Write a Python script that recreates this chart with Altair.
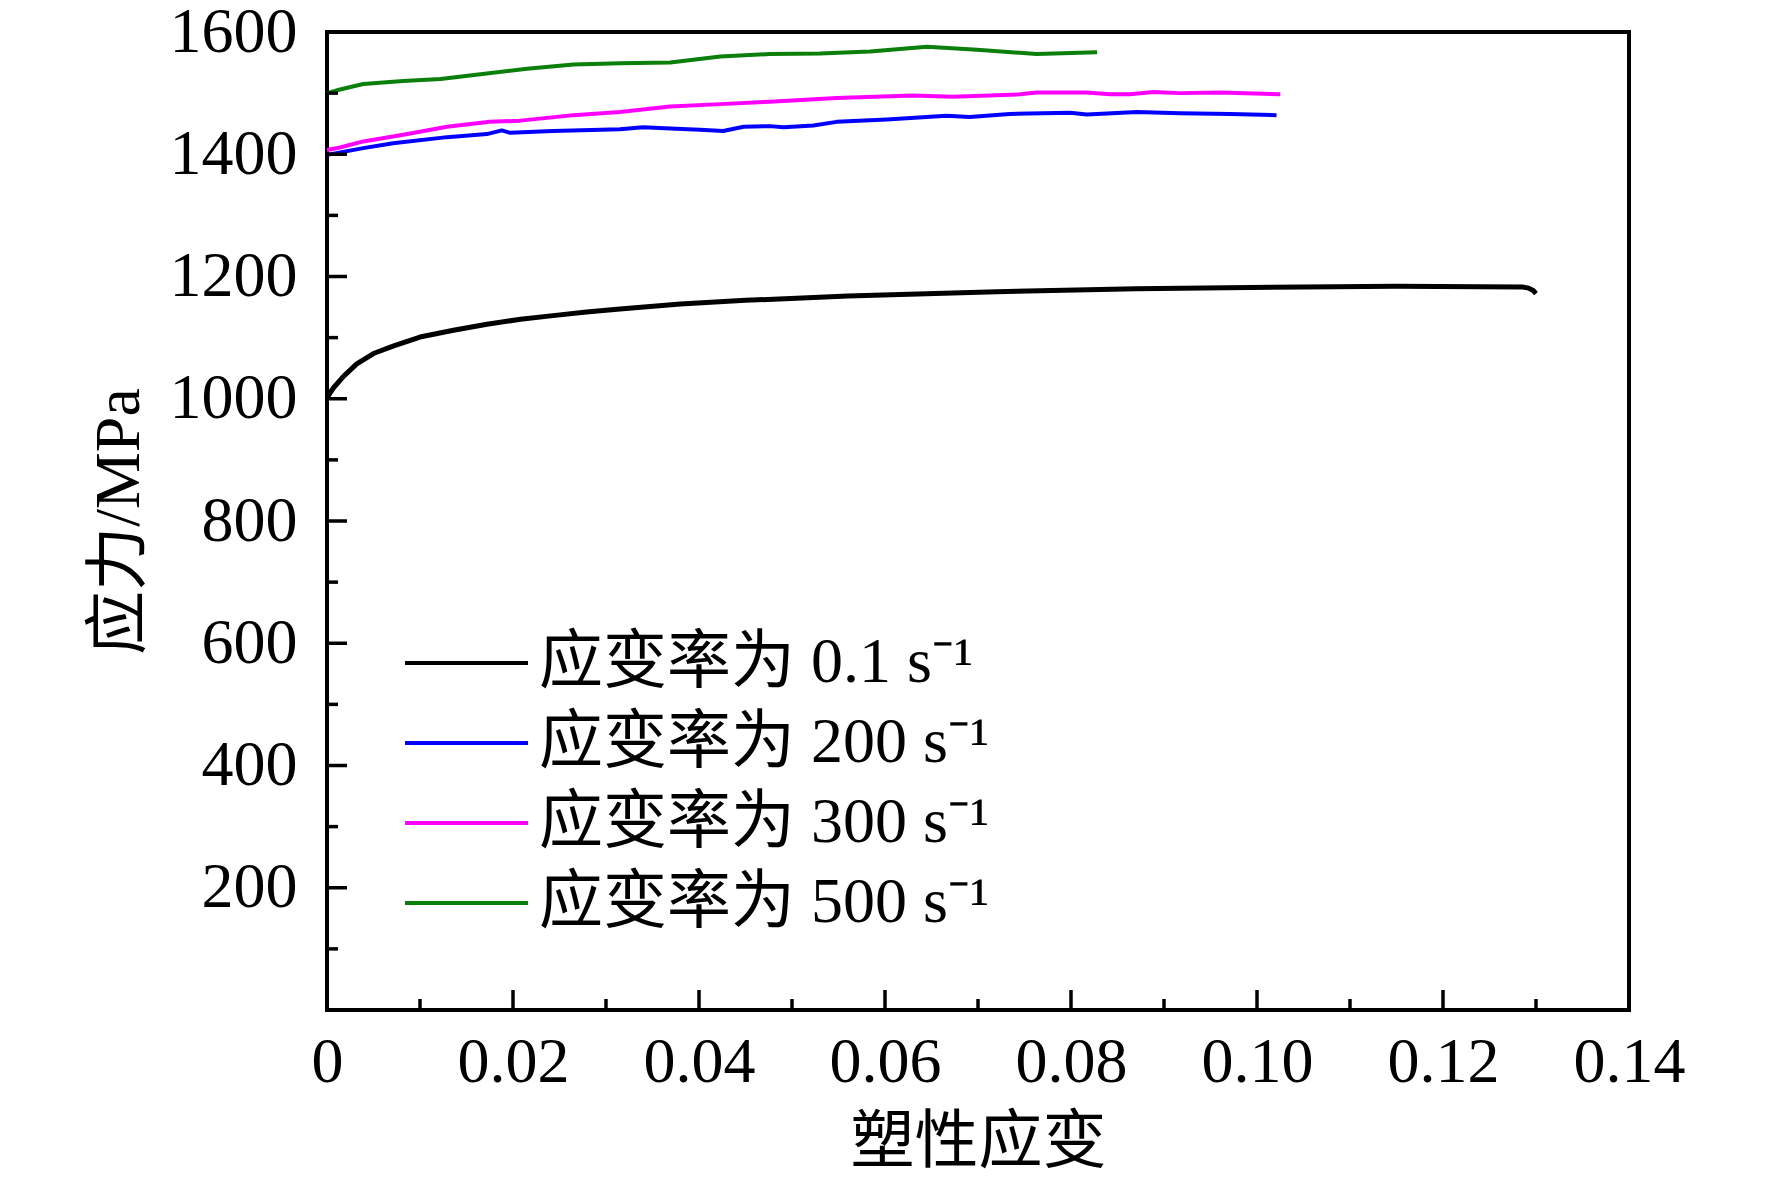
import altair as alt
import pandas as pd

# ---- data ----
labels = ["应变率为 0.1 s⁻¹", "应变率为 200 s⁻¹", "应变率为 300 s⁻¹", "应变率为 500 s⁻¹"]
colors = ["#000000", "#0000ff", "#ff00ff", "#0a7f0a"]
widths = [5, 4, 4, 4]

strain_01 = [0.0, 0.0007, 0.0018, 0.0032, 0.005, 0.0071, 0.01, 0.0136, 0.0172, 0.0208,
             0.0243, 0.0279, 0.0315, 0.038, 0.045, 0.056, 0.072, 0.087, 0.105, 0.115,
             0.1285, 0.1292, 0.1297, 0.1300]
stress_01 = [1002, 1018, 1037, 1057, 1074, 1086, 1101, 1112, 1122, 1130,
             1136, 1142, 1147, 1155, 1161, 1168, 1175, 1180, 1183, 1184,
             1183, 1181, 1177, 1172]

strain_200 = [0.0, 0.0039, 0.0071, 0.0129, 0.0172, 0.0188, 0.0197, 0.0243, 0.0315, 0.034,
              0.0369, 0.0401, 0.0426, 0.0448, 0.0476, 0.0491, 0.0523, 0.0548, 0.0602, 0.0666,
              0.0691, 0.0734, 0.0799, 0.0817, 0.0871, 0.0917, 0.0971, 0.1021]
stress_200 = [1399, 1410, 1418, 1428, 1433, 1439, 1435, 1438, 1441, 1444,
              1442, 1440, 1438, 1445, 1446, 1444, 1447, 1453, 1457, 1463,
              1461, 1466, 1468, 1465, 1469, 1467, 1466, 1464]

strain_300 = [0.0, 0.0014, 0.0039, 0.0082, 0.0129, 0.0175, 0.0208, 0.0265, 0.0315, 0.0369,
              0.0423, 0.0476, 0.0548, 0.063, 0.0673, 0.0745, 0.0763, 0.0817, 0.0842, 0.0863,
              0.0889, 0.0917, 0.096, 0.1025]
stress_300 = [1407, 1411, 1421, 1432, 1445, 1453, 1455, 1464, 1469, 1478,
              1482, 1486, 1492, 1496, 1494, 1498, 1501, 1501, 1498, 1498,
              1502, 1500, 1501, 1498]

strain_500 = [0.0, 0.0014, 0.0039, 0.0082, 0.0122, 0.0165, 0.0215, 0.0265, 0.0315, 0.0369,
              0.0423, 0.0476, 0.053, 0.0584, 0.0645, 0.0699, 0.0763, 0.0828]
stress_500 = [1500, 1506, 1515, 1520, 1523, 1531, 1540, 1547, 1549, 1550,
              1560, 1564, 1565, 1568, 1576, 1571, 1564, 1567]

x_tick_labels = [0, 0.02, 0.04, 0.06, 0.08, 0.10, 0.12, 0.14]
x_minor = [0.01, 0.03, 0.05, 0.07, 0.09, 0.11, 0.13]
y_tick_labels = [200, 400, 600, 800, 1000, 1200, 1400, 1600]
y_minor = [100, 300, 500, 700, 900, 1100, 1300, 1500]

# ---- build table ----
rows = []
for lab, w, xs, ys in zip(labels, widths,
                          [strain_01, strain_200, strain_300, strain_500],
                          [stress_01, stress_200, stress_300, stress_500]):
    for i, (a, b) in enumerate(zip(xs, ys)):
        rows.append({"series": lab, "strain": a, "stress": b, "order": i, "w": w})
df = pd.DataFrame(rows)

W, H = 1302, 978
FONT = "Liberation Serif, Times New Roman, Noto Sans CJK SC"

xscale = alt.Scale(domain=[0, 0.14], nice=False, zero=False)
yscale = alt.Scale(domain=[0, 1600], nice=False)

xaxis = alt.Axis(title="塑性应变", values=x_tick_labels,
                 labelExpr="datum.value == 0 ? '0' : format(datum.value, '.2f')",
                 ticks=False, domain=False, grid=False, labelPadding=20,
                 labelFontSize=64, labelFont=FONT, labelColor="#000",
                 labelFlush=False, labelOverlap=False,
                 titleFontSize=64, titleFont=FONT, titleColor="#000",
                 titleFontWeight="normal", titleX=651, titleY=132,
                 titleBaseline="middle")
yaxis = alt.Axis(title="应力/MPa", values=y_tick_labels, format="d",
                 ticks=False, domain=False, grid=False, labelPadding=30,
                 labelFontSize=64, labelFont=FONT, labelColor="#000",
                 labelOverlap=False, labelFlush=False,
                 titleFontSize=64, titleFont=FONT, titleColor="#000",
                 titleFontWeight="normal", titleX=-208, titleY=489,
                 titleBaseline="middle", titleAngle=270)

lines = alt.Chart(df).mark_line(strokeJoin="round", strokeCap="butt").encode(
    x=alt.X("strain:Q", scale=xscale, axis=xaxis),
    y=alt.Y("stress:Q", scale=yscale, axis=yaxis),
    color=alt.Color("series:N",
                    scale=alt.Scale(domain=labels, range=colors),
                    sort=labels,
                    legend=alt.Legend(title=None, orient="none", legendX=76, legendY=599,
                                      symbolType="stroke", symbolSize=123 * 123,
                                      symbolStrokeWidth=4, labelFontSize=64,
                                      labelFont=FONT, labelColor="#000",
                                      labelOffset=9, clipHeight=64, rowPadding=16,
                                      padding=0, labelLimit=1000)),
    strokeWidth=alt.StrokeWidth("w:Q", scale=None, legend=None),
    order="order:Q",
)

def tick_layer(vals, axis, length):
    if axis == "x":
        d = pd.DataFrame({"strain": vals})
        return alt.Chart(d).mark_rule(color="#000", strokeWidth=3.5).encode(
            x=alt.X("strain:Q", scale=xscale, axis=xaxis),
            y=alt.value(H), y2=alt.value(H - length))
    d = pd.DataFrame({"stress": vals})
    return alt.Chart(d).mark_rule(color="#000", strokeWidth=3.5).encode(
        y=alt.Y("stress:Q", scale=yscale, axis=yaxis),
        x=alt.value(0), x2=alt.value(length))

chart = alt.layer(
    lines,
    tick_layer(x_tick_labels, "x", 20),
    tick_layer(x_minor, "x", 11),
    tick_layer(y_tick_labels, "y", 20),
    tick_layer(y_minor, "y", 11),
).properties(
    width=W, height=H,
    autosize=alt.AutoSizeParams(type="none"),
    padding={"left": 319, "top": 24, "right": 135, "bottom": 168},
).configure(background="white").configure_view(stroke="#000", strokeWidth=4)

chart.save("out.html", embed_options={"renderer": "svg", "actions": False})
